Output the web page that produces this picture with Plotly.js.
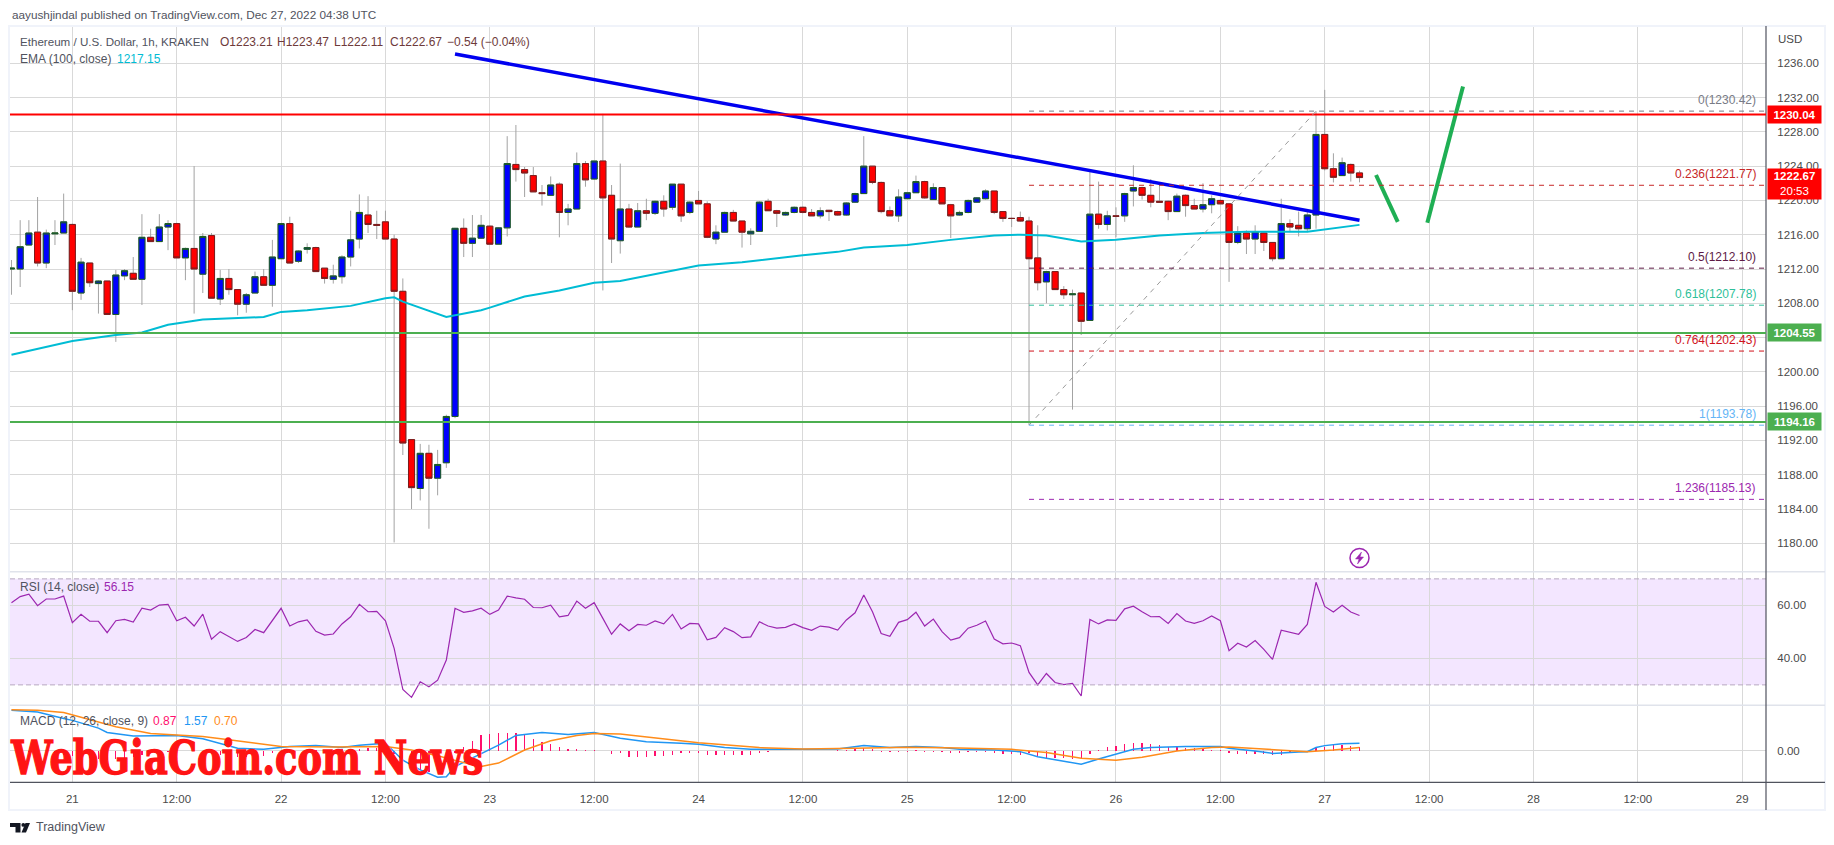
<!DOCTYPE html>
<html>
<head>
<meta charset="utf-8">
<script src="https://cdn.plot.ly/plotly-3.0.1.min.js"></script>
<style>
  html, body { margin: 0; padding: 0; background: #fff; }
  #chart { width: 1834px; height: 845px; }
</style>
</head>
<body>
<div id="chart"></div>
<script>
// hourly candles, first one is Dec 20 17:00
var open = [1212,1212,1214.8,1216.3,1212.7,1216.1,1216.2,1217.2,1209.2,1212.7,1210.3,1210.6,1206.7,1211.2,1211.5,1210.8,1215.7,1215.2,1216.9,1217.3,1213.3,1214.4,1211.4,1215.9,1208.5,1210.9,1209.6,1207.9,1209.2,1211.1,1210.1,1213.2,1217.3,1212.9,1214.3,1214.5,1212.1,1210.8,1211.1,1213.4,1215.5,1218.3,1217.2,1217.5,1215.5,1209.4,1192.1,1186.4,1190.5,1187.6,1189.4,1194.8,1216.75,1215,1215.6,1217,1214.9,1216.8,1224.2,1223.6,1222.9,1220.9,1220.6,1221.9,1218.6,1219,1224.3,1222.5,1224.6,1220.6,1215.3,1219,1216.9,1218.8,1218.5,1219.9,1219.2,1221.9,1218.6,1220,1219.6,1215.5,1216.3,1218.6,1217.6,1216.1,1216.4,1219.9,1218.8,1218.3,1218.6,1219.2,1218.6,1218.2,1218.85,1218.7,1218.3,1219.8,1220.8,1224,1222.1,1218.8,1218.2,1220.2,1220.9,1222.2,1220.1,1221.5,1219.5,1218.3,1218.6,1219.8,1220.2,1221.1,1218.7,1217.9,1218,1217.6,1213.3,1210.5,1211.7,1209.6,1209,1209.2,1206,1218.4,1217.2,1218.2,1218.2,1221.1,1221.5,1220.6,1219.9,1219.9,1218.7,1220.6,1219.4,1219,1219.5,1220,1219.6,1215.1,1216.2,1215.5,1216.2,1215.1,1213.2,1217.3,1217.1,1216.7,1218.3,1227.7,1223.7,1222.9,1224.2,1223.21];
var high = [1213.05,1217.7,1217.7,1220.4,1216.6,1217.7,1220.8,1217.3,1213.3,1212.7,1210.7,1210.6,1211.9,1212,1213.4,1218.4,1216.7,1218.4,1217.7,1217.4,1214.5,1224,1216.2,1216.2,1211.9,1212,1209.6,1209.2,1211.7,1212,1215.4,1217.3,1218.1,1214.2,1215,1214.6,1212.1,1212.5,1213.6,1218.8,1220.7,1220.5,1218.8,1218.8,1216,1210.9,1192.1,1191.6,1191.5,1190.9,1195,1216.8,1217.9,1218.3,1218.3,1217.1,1216.9,1227.5,1228.8,1223.9,1223.9,1221.8,1222.8,1222.1,1219.6,1225.6,1224.6,1224.6,1230.1,1221.8,1224.3,1219.6,1219.7,1220.2,1220,1220.6,1221.9,1221.9,1219.9,1221.1,1219.9,1217.1,1218.7,1218.9,1217.6,1216.75,1219.9,1220.2,1218.9,1218.7,1219.3,1219.3,1219,1219.2,1218.9,1218.8,1219.8,1220.9,1227.5,1224,1222.2,1219.3,1221.3,1221,1222.9,1222.3,1222,1221.5,1219.6,1218.8,1220.1,1220.4,1221.3,1221.1,1218.7,1218,1218.7,1218.1,1217.1,1211.8,1211.7,1210,1209.6,1209.2,1223.4,1222.2,1218.8,1219.2,1220.9,1224.1,1221.6,1222.5,1222,1220,1220.8,1220.7,1220.2,1222,1220.6,1220.1,1219.7,1217,1216.5,1217.1,1216.3,1215.1,1220.2,1217.8,1218.7,1218.9,1230.4,1232.9,1225.5,1225,1224.3,1223.47];
var low = [1209,1209.9,1214.8,1212.3,1212.1,1214.8,1216.2,1207.2,1208.4,1209.9,1206.8,1206.7,1203.5,1210.7,1210.8,1207.8,1215.2,1215.2,1214.2,1213.3,1210.7,1206.8,1209.2,1208.6,1207.8,1209,1206.6,1206.9,1209.2,1210.1,1207.6,1213.2,1212.7,1212.7,1213.8,1211.7,1210.3,1210.3,1210.3,1212.3,1214.4,1216.2,1215.5,1215.5,1180.1,1190.3,1184,1185,1181.7,1185.6,1188.8,1194.6,1213.4,1213.4,1215.5,1214.9,1214.9,1215.8,1222.2,1220.4,1221,1219.4,1220.6,1215.7,1217.1,1219,1221.6,1222.4,1209.5,1212.7,1213.8,1216.8,1216.9,1217.7,1218.3,1218.1,1218.9,1217.5,1218.4,1219.6,1215.6,1214.9,1216.3,1217.6,1214.5,1214.8,1216.4,1218.8,1216.9,1218.2,1218.5,1218.5,1218.2,1217.9,1217.6,1218.2,1218.2,1219.7,1220.8,1221.9,1218.5,1218.2,1217.5,1220.2,1220.9,1220.2,1220.1,1219.6,1215.6,1218.2,1218.5,1219.7,1220.1,1218.4,1217.5,1216.9,1217.5,1193.8,1209.5,1208,1209.6,1208.5,1195.6,1204.3,1206,1216.7,1216.5,1215.7,1217.5,1219.3,1220.1,1219.2,1219.8,1217.7,1218.7,1218.1,1219,1218.6,1218.5,1219.6,1210.5,1214.9,1213.75,1213.75,1214.1,1212.9,1213.2,1216.3,1215.8,1216.3,1216.7,1223.5,1222.1,1222.9,1222.2,1222.11];
var close = [1212.1,1214.6,1216.2,1212.7,1216.2,1216.2,1217.5,1209.4,1212.8,1210.4,1210.6,1206.7,1211.3,1211.8,1210.8,1215.7,1215.2,1216.9,1217.3,1213.3,1214.4,1212,1215.8,1208.6,1210.9,1209.6,1207.9,1209,1211.1,1210.1,1213.4,1217.3,1212.7,1214.1,1214.5,1211.7,1210.9,1211.2,1213.4,1215.4,1218.6,1217.2,1217.1,1215.5,1209.4,1191.7,1186.5,1190.5,1187.6,1189.2,1194.8,1216.75,1215,1215.6,1217.1,1214.9,1216.8,1224.3,1223.6,1223.2,1221,1220.8,1221.8,1218.6,1219,1224.3,1222.4,1224.6,1220.3,1215.5,1219,1216.9,1218.8,1218.5,1219.9,1219,1221.9,1218.2,1219.8,1219.6,1215.7,1216.3,1218.6,1217.6,1216.3,1216.4,1219.8,1218.8,1218.5,1218.6,1219.2,1218.6,1218.2,1218.8,1218.7,1218.3,1219.7,1220.8,1224,1222.1,1218.7,1218.2,1220.4,1220.9,1222.2,1220.3,1221.5,1219.6,1218.2,1218.6,1220,1220.3,1221.1,1218.6,1217.9,1217.9,1217.6,1213.2,1210.4,1211.7,1209.6,1209,1209.1,1205.9,1218.4,1217.2,1218.2,1218.15,1220.8,1221.5,1220.6,1219.8,1219.8,1218.7,1220.5,1219.4,1219,1219.5,1220.2,1219.6,1215.1,1216.2,1215.5,1216.35,1215.1,1213.2,1217.3,1216.9,1216.7,1218.3,1227.7,1223.7,1222.7,1224.4,1223.2,1222.67];

// indicators are per hour as well, hours counted from Dec 21 00:00
var emaHours = [-7,0,5,8,11,15,22,24,27,32,36,37,38,43,47,48,52,56,60,63,72,77,84,88,91,96,101,106,109,112,116,120,125,130,135,142,148];
var emaValues = [1202,1203.6,1204.3,1204.6,1205.5,1206.1,1206.4,1207,1207.2,1207.7,1208.6,1208.7,1208.2,1206.4,1207.2,1207.5,1208.8,1209.5,1210.4,1210.6,1212.4,1212.8,1213.6,1214,1214.5,1214.8,1215.4,1215.9,1216,1215.9,1215.2,1215.4,1215.9,1216.2,1216.35,1216.35,1217.15];

var rsiValues = [61,63.3,64.2,59.9,62.4,62.4,63.5,53.5,56.6,54,54,49.7,54.2,54.7,53.7,58.9,58.2,60.1,60.4,54.2,55.5,52.2,56.7,47.2,50.1,48.2,46.4,47.9,50.9,49.7,54.5,58.9,52.2,53.8,54.5,50.2,48.8,49.2,53,55.7,60.4,57.6,57.7,54.2,43.8,28.3,25.3,31.2,29.3,31.8,39.4,58.9,57.4,57.9,58.9,56.6,58.2,63.5,62.8,62.3,59.2,59.1,60.1,55.7,56.2,61.6,58.9,61,55.1,49.1,53,50.4,52.8,52.5,54.1,53,56.6,51.1,53.2,53,47,47.9,51.6,50.1,47.8,48.1,53.8,52.2,51.4,51.7,53,51.6,50.6,52.2,51.8,50.7,54.5,57.2,63.9,57.6,49.4,48.3,53.6,54.6,57.4,52.2,54.8,50.1,46.9,47.8,51.4,52.5,54.1,47.3,45.5,45.8,44.8,34.7,30,34.3,30.9,30.1,30.6,25.8,54.7,53,54.5,54.3,58.7,59.7,57.6,55.7,55.8,53.2,56.9,54.1,53.2,54.2,56,54.2,42.9,45.7,44.3,46.7,43.4,39.6,50.6,49.8,49.1,52.8,68.7,59.6,57.5,60,57.5,56.15];

var macdHours = [-7,-4,-1,0,3,4,7,12,15,19,22,25,28,31,33,36,38,40,42,43,44,46,49,51,54,57,60,63,66,70,72,75,78,84,88,91,94,97,100,102,106,109,111,114,116,118,120,122,124,128,132,133,136,138,141,142,143,144,146,148];
var macdValues = [8.4,8,6.7,6.3,4.7,3.8,3.1,3.2,2.5,0.55,0.34,0.9,1.1,0.7,1.2,1.6,-1.9,-3.9,-5.4,-5.3,-3.2,-1.5,1.2,3.2,3.8,3.4,3.8,2.6,1.9,1.6,1.4,0.7,0.34,0.34,0.4,1.1,0.7,0.9,0.7,0.34,0.2,-0.14,-1.2,-2.1,-2.75,-1.65,-0.7,0.34,0.7,0.9,0.9,0.55,0,-0.5,-0.2,-0.15,0.7,1.1,1.5,1.57];
var signalHours = [-7,-4,-1,2,5,9,15,18,21,24,30,36,39,42,45,47,49,52,55,58,60,63,64,72,79,84,90,96,102,108,112,116,120,123,127,131,133,138,142,145,148];
var signalValues = [8.5,8.4,7.9,6.4,5,3.6,3,2.3,1.6,0.9,0.8,0.9,0.2,-1,-2.4,-3.2,-2.5,0.2,2.1,3.2,3.6,3.5,3.3,1.7,0.7,0.4,0.55,0.75,0.6,0.34,-0.3,-1.5,-1.9,-1.3,0,0.7,0.8,0.2,-0.14,0.2,0.7];
var histValues = [-0.1,-0.2,-0.3,-0.4,-0.5,-0.7,-0.9,-1.1,-1.2,-1.4,-1.6,-1.8,-1.7,-1.5,-1.3,-0.8,-0.5,-0.3,-0.2,-0.1,0.05,-0.1,-0.3,-0.6,-0.9,-1.1,-1.2,-1.2,-1.2,-1,-0.5,-0.3,-0.2,-0.1,0,0.1,0.2,0.3,0.4,0.4,0.5,0.6,0.7,0.3,-0.6,-1.6,-3,-4,-4.3,-4.2,-2,-0.5,0.9,2,3.2,3.4,3.6,3.6,3.6,3.2,2.5,1.9,1.4,0.9,0.4,0.34,0.2,0.14,-0.07,-0.6,-0.5,-1.2,-1.2,-1.2,-1.05,-1.05,-0.85,-0.5,-0.35,-0.35,-0.75,-0.75,-0.8,-0.8,-0.75,-0.75,-0.5,-0.2,-0.07,-0.1,-0.07,-0.05,-0.05,-0.05,-0.05,0.1,0.2,0.4,0.55,0.35,-0.14,-0.14,-0.2,-0.2,0.2,-0.14,-0.14,-0.14,-0.35,-0.35,-0.2,-0.2,-0.2,-0.5,-0.55,-0.6,-0.8,-0.5,-1.2,-1.4,-1.5,-1.5,-1.6,-1.7,-0.6,0.14,0.8,1.1,1.5,1.65,1.65,1.45,1.2,0.75,0.8,0.7,0.55,0.4,0.2,0.14,-0.35,-0.6,-0.7,-0.7,-0.7,-0.9,-0.75,-0.5,-0.27,0,0.7,0.9,1.15,1.2,1.1,0.87];

// the 1204 label sits under the green price tag in the original
var priceTicks = [1180,1184,1188,1192,1196,1200,1204,1208,1212,1216,1220,1224,1228,1232,1236];
var priceTickLabels = ['1180.00','1184.00','1188.00','1192.00','1196.00','1200.00','','1208.00','1212.00','1216.00','1220.00','1224.00','1228.00','1232.00','1236.00'];
var rsiTicks = [40,60];
var macdTicks = [0];
var timeTickHours = [0,12,24,36,48,60,72,84,96,108,120,132,144,156,168,180,192];
var timeTickLabels = ['21','12:00','22','12:00','23','12:00','24','12:00','25','12:00','26','12:00','27','12:00','28','12:00','29'];

var resistanceLevel = 1230.04;
var supportLevels = [1204.55,1194.16];
var trendHours = [44,148];
var trendPrices = [1237.08,1217.7];
var arrowDownHours = [149.9,152.4];
var arrowDownPrices = [1222.97,1217.5];
var arrowUpHours = [155.8,159.9];
var arrowUpPrices = [1217.4,1233.3];

var fibLabels = ['0','0.236','0.5','0.618','0.764','1','1.236'];
var fibPrices = [1230.42,1221.77,1212.10,1207.78,1202.43,1193.78,1185.13];
var fibColors = ['#787b86','#c62828','#5d1a45','#2fbf9a','#d0121b','#64b5f6','#9c27b0'];
var fibStartHour = 110;
var fibSwingHours = [110,143];

var W = 1834, H = 845;
function px(x) { return x / W; }
function py(y) { return 1 - y / H; }
function toDate(h) {
  var d = new Date(Date.UTC(2022, 11, 21) + h * 3600000);
  return d.toISOString().slice(0, 19).replace('T', ' ');
}
var candleDates = open.map(function (v, i) { return toDate(i - 7); });
var xStart = toDate(-7.17), xEnd = toDate(194.74);

var greyWick = '#a3a3a3';
var wicks = {
  type: 'candlestick', x: candleDates, open: open, high: high, low: low, close: close,
  increasing: {line: {color: greyWick, width: 1}, fillcolor: greyWick},
  decreasing: {line: {color: greyWick, width: 1}, fillcolor: greyWick},
  hoverinfo: 'skip', xaxis: 'x', yaxis: 'y'
};
var bodies = {
  type: 'candlestick', x: candleDates, open: open, close: close,
  high: open.map(function (v, i) { return Math.max(v, close[i]); }),
  low: open.map(function (v, i) { return Math.min(v, close[i]); }),
  increasing: {line: {color: '#1b5e20', width: 1}, fillcolor: '#0000ff'},
  decreasing: {line: {color: '#7b1c1c', width: 1}, fillcolor: '#ff0000'},
  hoverinfo: 'skip', xaxis: 'x', yaxis: 'y'
};
function line(hours, vals, color, width, yaxis) {
  return {
    type: 'scatter', mode: 'lines', x: hours.map(toDate), y: vals,
    line: {color: color, width: width}, hoverinfo: 'skip', xaxis: 'x', yaxis: yaxis
  };
}
var data = [
  wicks, bodies,
  line(emaHours, emaValues, '#00bcd4', 2, 'y'),
  line(trendHours, trendPrices, '#0000f0', 3.5, 'y'),
  line(arrowDownHours, arrowDownPrices, '#1faf54', 4, 'y'),
  line(arrowUpHours, arrowUpPrices, '#1faf54', 4, 'y'),
  line(candleDates.map(function (v, i) { return i - 7; }), rsiValues, '#9c27b0', 1.2, 'y2'),
  {type: 'bar', x: candleDates, y: histValues, width: 540000, marker: {color: '#ff0f6d'}, hoverinfo: 'skip', xaxis: 'x', yaxis: 'y3'},
  line(macdHours, macdValues, '#2196f3', 1.5, 'y3'),
  line(signalHours, signalValues, '#ff8c1a', 1.5, 'y3')
];

var gridColor = '#d9d9d9';
var tickFont = {family: 'Liberation Sans', size: 11.5, color: '#4a4a4a'};
function yAxis(domain, range, ticks) {
  return {
    domain: domain, range: range, side: 'right', anchor: 'x', fixedrange: true,
    tickmode: 'array', tickvals: ticks, tickformat: '.2f', tickfont: tickFont,
    ticks: 'outside', ticklen: 8, tickcolor: 'rgba(0,0,0,0)',
    showgrid: true, gridcolor: gridColor, gridwidth: 1, zeroline: false, showline: false
  };
}

// paper lines, panes and frame
var shapes = [
  {type: 'rect', xref: 'paper', yref: 'paper', x0: px(9), x1: px(1825), y0: py(26), y1: py(810), line: {color: '#f0f3fa', width: 2}, fillcolor: 'rgba(0,0,0,0)'},
  {type: 'rect', xref: 'x', yref: 'y2', x0: xStart, x1: xEnd, y0: 30, y1: 70, line: {width: 0}, fillcolor: 'rgba(165,60,255,0.13)', layer: 'below'},
  {type: 'line', xref: 'x', yref: 'y2', x0: xStart, x1: xEnd, y0: 70, y1: 70, line: {color: '#b7a9c0', width: 1, dash: '5px,3px'}},
  {type: 'line', xref: 'x', yref: 'y2', x0: xStart, x1: xEnd, y0: 30, y1: 30, line: {color: '#b7a9c0', width: 1, dash: '5px,3px'}},
  {type: 'line', xref: 'paper', yref: 'paper', x0: px(10), x1: px(1825), y0: py(571.7), y1: py(571.7), line: {color: '#e0e3eb', width: 1.5}},
  {type: 'line', xref: 'paper', yref: 'paper', x0: px(10), x1: px(1825), y0: py(705.3), y1: py(705.3), line: {color: '#e0e3eb', width: 1.5}},
  {type: 'line', xref: 'paper', yref: 'paper', x0: px(10), x1: px(1825), y0: py(782.3), y1: py(782.3), line: {color: '#50535e', width: 1.2}},
  {type: 'line', xref: 'paper', yref: 'paper', x0: px(1766), x1: px(1766), y0: py(26), y1: py(810), line: {color: '#50535e', width: 1.2}},
  {type: 'line', xref: 'x', yref: 'y', x0: xStart, x1: xEnd, y0: resistanceLevel, y1: resistanceLevel, line: {color: '#ff0000', width: 2}},
  {type: 'line', xref: 'x', yref: 'y', x0: toDate(fibSwingHours[0]), x1: toDate(fibSwingHours[1]), y0: fibPrices[5], y1: fibPrices[0], line: {color: '#9a9a9a', width: 1, dash: '5px,5px'}},
  {type: 'circle', xref: 'paper', yref: 'paper', xsizemode: 'pixel', ysizemode: 'pixel', xanchor: px(1359.5), yanchor: py(558), x0: -9.5, x1: 9.5, y0: -9.5, y1: 9.5, line: {color: '#9c27b0', width: 1.5}},
  {type: 'path', xref: 'paper', yref: 'paper', xsizemode: 'pixel', ysizemode: 'pixel', xanchor: px(1359.5), yanchor: py(558), path: 'M 2 6 L -4 -1 L -0.5 -1 L -2 -6 L 4 1 L 0.5 1 Z', fillcolor: '#9c27b0', line: {color: '#9c27b0', width: 0.5}},
  {type: 'path', xref: 'paper', yref: 'paper', xsizemode: 'pixel', ysizemode: 'pixel', xanchor: px(10), yanchor: py(827.5), path: 'M 0 4.5 L 10.5 4.5 L 10.5 -5 L 5.5 -5 L 5.5 0.5 L 0 0.5 Z', fillcolor: '#131722', line: {width: 0}},
  {type: 'circle', xref: 'paper', yref: 'paper', xsizemode: 'pixel', ysizemode: 'pixel', xanchor: px(10), yanchor: py(827.5), x0: 11.4, x1: 15.2, y0: 0.7, y1: 4.5, fillcolor: '#131722', line: {width: 0}},
  {type: 'path', xref: 'paper', yref: 'paper', xsizemode: 'pixel', ysizemode: 'pixel', xanchor: px(10), yanchor: py(827.5), path: 'M 15.5 4.5 L 20 4.5 L 16 -5 L 11.5 -5 Z', fillcolor: '#131722', line: {width: 0}}
];
supportLevels.forEach(function (p) {
  shapes.push({type: 'line', xref: 'x', yref: 'y', x0: xStart, x1: xEnd, y0: p, y1: p, line: {color: '#4caf50', width: 2}});
});
fibPrices.forEach(function (p, i) {
  shapes.push({type: 'line', xref: 'x', yref: 'y', x0: toDate(fibStartHour), x1: xEnd, y0: p, y1: p, line: {color: fibColors[i], width: 1, dash: '5px,5px'}});
});

var txt = 'Liberation Sans';
function label(x, y, text, color, size, anchor) {
  return {
    xref: 'paper', yref: 'paper', x: px(x), y: py(y), text: text, showarrow: false,
    xanchor: anchor || 'left', yanchor: 'middle', font: {family: txt, size: size || 12, color: color}
  };
}
function tag(y, text, color, height) {
  return {
    xref: 'paper', yref: 'paper', x: px(1767), y: py(y), xanchor: 'left', yanchor: 'middle',
    text: text, showarrow: false, bgcolor: color, width: 53, height: height || 17, borderpad: 0,
    align: 'center', font: {family: txt, size: 11.5, color: '#fff'}
  };
}
var legendBrown = '#6e3a3a';
var annotations = [
  label(10, 15, 'aayushjindal published on TradingView.com, Dec 27, 2022 04:38 UTC', '#50535e', 11.75),
  label(18, 42, 'Ethereum / U.S. Dollar, 1h, KRAKEN', '#50535e', 11.6),
  label(218, 42, 'O1223.21', legendBrown, 12),
  label(275, 42, 'H1223.47', legendBrown, 12),
  label(332, 42, 'L1222.11', legendBrown, 12),
  label(388, 42, 'C1222.67', legendBrown, 12),
  label(445, 42, '−0.54 (−0.04%)', legendBrown, 12),
  label(18, 59, 'EMA (100, close)', '#50535e', 12),
  label(115, 59, '1217.15', '#00bcd4', 12),
  label(18, 587, 'RSI (14, close)', '#50535e', 12),
  label(102, 587, '56.15', '#9c27b0', 12),
  label(18, 720.7, 'MACD (12, 26, close, 9)', '#50535e', 12),
  label(150.6, 720.7, '0.87', '#ff0f6d', 12),
  label(181.5, 720.7, '1.57', '#2196f3', 12),
  label(211.5, 720.7, '0.70', '#ff8c1a', 12),
  label(1776, 38.6, 'USD', '#4a4a4a', 11.5),
  label(34, 827, 'TradingView', '#50535e', 12.5),
  label(246, 757.5, '<b>WebGiaCoin.com News</b>', '#ff1414', 46, 'center'),
  tag(114.3, '<b>1230.04</b>', '#ff0000'),
  tag(183.6, '<b>1222.67</b><br>20:53', '#ff0000', 29.5),
  tag(332.3, '<b>1204.55</b>', '#4caf50'),
  tag(421.7, '<b>1194.16</b>', '#4caf50')
];
annotations[17].font.family = 'DejaVu Serif';
fibLabels.forEach(function (name, i) {
  annotations.push({
    xref: 'paper', yref: 'y', x: px(1758), y: fibPrices[i], yshift: 11, xanchor: 'right', yanchor: 'middle',
    text: name + '(' + fibPrices[i].toFixed(2) + ')', showarrow: false,
    font: {family: txt, size: 12, color: fibColors[i]}
  });
});

var priceAxis = yAxis([py(571.7), py(26)], [1176.69, 1240.35], priceTicks);
priceAxis.ticktext = priceTickLabels;

var layout = {
  width: W, height: H,
  margin: {l: 0, r: 0, t: 0, b: 0},
  paper_bgcolor: '#fff', plot_bgcolor: '#fff',
  showlegend: false, boxmode: 'overlay', boxgap: 0.3, boxgroupgap: 0,
  hovermode: false, dragmode: false, bargap: 0,
  xaxis: {
    domain: [px(10), px(1766)], range: [xStart, xEnd], type: 'date', anchor: 'y3',
    rangeslider: {visible: false}, fixedrange: true,
    tickmode: 'array', tickvals: timeTickHours.map(toDate), ticktext: timeTickLabels, tickfont: tickFont,
    ticks: 'outside', ticklen: 6, tickcolor: 'rgba(0,0,0,0)',
    showgrid: true, gridcolor: gridColor, gridwidth: 1, zeroline: false, showline: false
  },
  yaxis: priceAxis,
  yaxis2: yAxis([py(705.3), py(571.7)], [22.3, 72.7], rsiTicks),
  yaxis3: yAxis([py(782.3), py(705.3)], [-6.45, 9.4], macdTicks),
  shapes: shapes,
  annotations: annotations
};

Plotly.newPlot('chart', data, layout, {displayModeBar: false, staticPlot: true}).then(function (gd) {
  // squeeze the heavy watermark to its width in the original
  gd.querySelectorAll('.annotation-text').forEach(function (t) {
    if (t.textContent.indexOf('WebGiaCoin') === 0) {
      t.setAttribute('textLength', '472');
      t.setAttribute('lengthAdjust', 'spacingAndGlyphs');
      t.style.stroke = '#ff1414';
      t.style.strokeWidth = '1.4px';
    }
  });
});
</script>
</body>
</html>
